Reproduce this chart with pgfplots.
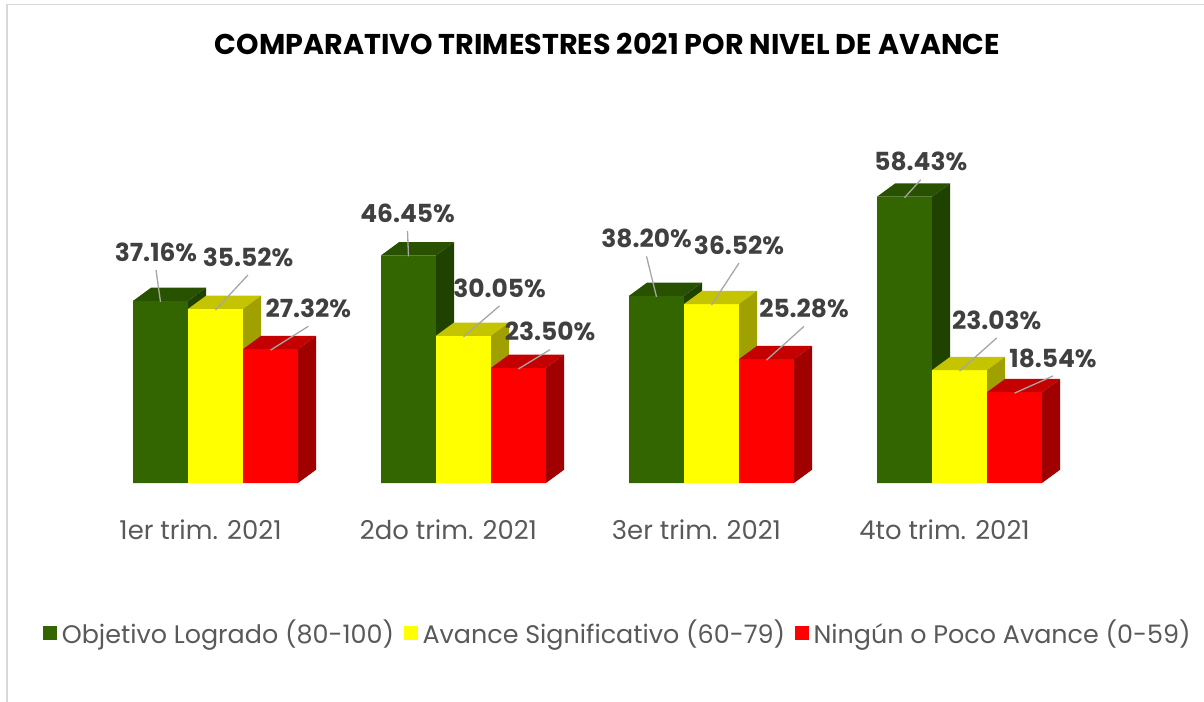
\documentclass[border=0pt]{standalone}
\usepackage{fontspec}
\setmainfont{Poppins}
\usepackage{pgfplots}
\pgfplotsset{compat=1.18}
\usepackage{pgfplotstable}

\definecolor{gfront}{RGB}{51,102,0}
\definecolor{gtop}{RGB}{40,82,0}
\definecolor{gside}{RGB}{31,66,0}
\definecolor{yfront}{RGB}{255,255,0}
\definecolor{ytop}{RGB}{196,196,0}
\definecolor{yside}{RGB}{160,160,0}
\definecolor{rfront}{RGB}{255,0,0}
\definecolor{rtop}{RGB}{196,0,0}
\definecolor{rside}{RGB}{160,0,0}
\definecolor{txtgray}{RGB}{89,89,89}
\definecolor{lblgray}{RGB}{64,64,64}
\definecolor{leader}{RGB}{166,166,166}
\definecolor{framegray}{RGB}{217,217,217}

% porcentajes por trimestre + desplazamiento de cada etiqueta (bp)
\pgfplotstableread{
x g     glx  gly  y     ylx  yly  r     rlx  rly
0 37.16 -4.5 49.0 35.52 32.5 52.0 27.32 37.8 40.8
1 46.45 -1.0 42.4 30.05 36.0 47.8 23.50 31.5 36.2
2 38.20 -10.0 57.5 36.52 27.5 59.0 25.28 37.5 50.8
3 58.43 16.3 35.0 23.03 37.2 50.2 18.54 38.5 34.2
}\datos

% cara superior, cara lateral y linea guia de cada barra (efecto 3D)
\newcommand\declbox[3]{%
  \pgfdeclareplotmark{#1}{%
    \pgfmathsetmacro\boxh{\hval*4.9*1.00375}%
    \pgfpathmoveto{\pgfpoint{-27.5bp}{0pt}}%
    \pgfpathlineto{\pgfpoint{27.5bp}{0pt}}%
    \pgfpathlineto{\pgfpoint{45.5bp}{13.2bp}}%
    \pgfpathlineto{\pgfpoint{-9.5bp}{13.2bp}}%
    \pgfpathclose
    \pgfsetfillcolor{#2}\pgfusepath{fill}%
    \pgfpathmoveto{\pgfpoint{27.5bp}{0pt}}%
    \pgfpathlineto{\pgfpoint{45.5bp}{13.2bp}}%
    \pgfpathlineto{\pgfpoint{45.5bp}{13.2bp-\boxh pt}}%
    \pgfpathlineto{\pgfpoint{27.5bp}{-\boxh pt}}%
    \pgfpathclose
    \pgfsetfillcolor{#3}\pgfusepath{fill}%
    \pgfsetstrokecolor{leader}\pgfsetlinewidth{1.3bp}%
    \pgfpathmoveto{\pgfpoint{0bp}{-1bp}}%
    \pgfpathlineto{\pgfpoint{\lx bp}{\ly bp-18bp}}%
    \pgfusepath{stroke}%
  }}
\declbox{boxg}{gtop}{gside}
\declbox{boxy}{ytop}{yside}
\declbox{boxr}{rtop}{rside}

\pgfplotsset{
  box3d/.style n args={3}{only marks, mark=#1, forget plot, point meta=y,
    visualization depends on={y \as \hval},
    visualization depends on={\thisrow{#2} \as \lx},
    visualization depends on={\thisrow{#3} \as \ly},
    nodes near coords={\pgfmathprintnumber[assume math mode=true,fixed,fixed zerofill,precision=2]{\pgfplotspointmeta}\%},
    every node near coord/.append style={anchor=center, inner sep=0pt,
      xshift=\lx bp, yshift=\ly bp,
      font=\fontsize{25}{29}\selectfont\bfseries, text=lblgray},
  },
}

\begin{document}
\begin{tikzpicture}
\useasboundingbox (0,0) rectangle (1204bp,702bp);
\draw[framegray, line width=1.4bp] (7bp,-10bp) -- (7bp,697.3bp) -- (1220bp,697.3bp);

\node[font=\fontsize{28.7}{33}\selectfont\bfseries] at (607.5bp,658.3bp)
  {COMPARATIVO TRIMESTRES 2021 POR NIVEL DE AVANCE};

\begin{axis}[
  at={(0,219bp)}, anchor=south west,
  scale only axis, width=1204bp, height=421.4bp,
  xmin=-0.86895, xmax=3.98589, ymin=0, ymax=86,
  clip=false, clip marker paths=true,
  axis line style={draw=none},
  major tick length=0pt,
  ytick=\empty,
  xtick={0,1,2,3},
  xticklabels={1er trim. 2021, 2do trim. 2021, 3er trim. 2021, 4to trim. 2021},
  xticklabel style={anchor=center, xshift=-15bp, yshift=-46.3bp,
    font=\fontsize{26}{30}\selectfont, text=txtgray},
  legend columns=3,
  legend cell align=left,
  legend style={at={(0.5133,-0.3555)}, anchor=center, draw=none, fill=none,
    font=\fontsize{25.5}{30}\selectfont, text=txtgray,
    /tikz/every odd column/.append style={column sep=3bp},
    /tikz/every even column/.append style={column sep=8bp}},
]
\addplot[ybar, bar width=55bp, bar shift=-55bp, fill=gfront, draw=none, forget plot] table[x=x, y=g] {\datos};
\addplot[box3d={boxg}{glx}{gly}] table[x expr=\thisrow{x}-0.22177, y=g] {\datos};
\addplot[ybar, bar width=55bp, bar shift=0bp, fill=yfront, draw=none, forget plot] table[x=x, y=y] {\datos};
\addplot[box3d={boxy}{ylx}{yly}] table[x=x, y=y] {\datos};
\addplot[ybar, bar width=55bp, bar shift=55bp, fill=rfront, draw=none, forget plot] table[x=x, y=r] {\datos};
\addplot[box3d={boxr}{rlx}{rly}] table[x expr=\thisrow{x}+0.22177, y=r] {\datos};

\addlegendimage{legend image code/.code={\fill[gfront] (0bp,-6.5bp) rectangle (13bp,6.5bp);}}
\addlegendentry{Objetivo Logrado (80-100)}
\addlegendimage{legend image code/.code={\fill[yfront] (0bp,-6.5bp) rectangle (13bp,6.5bp);}}
\addlegendentry{Avance Significativo (60-79)}
\addlegendimage{legend image code/.code={\fill[rfront] (0bp,-6.5bp) rectangle (13bp,6.5bp);}}
\addlegendentry{Ningún o Poco Avance (0-59)}
\end{axis}
\end{tikzpicture}
\end{document}
